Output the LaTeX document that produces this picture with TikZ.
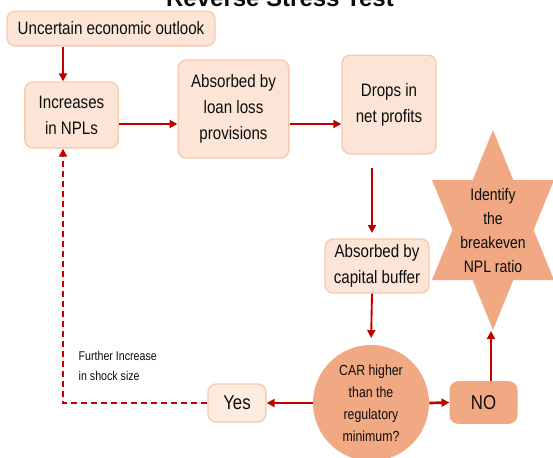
\documentclass[tikz,border=0pt]{standalone}
\usepackage{fontspec}
\setmainfont{Liberation Sans}[FakeStretch=0.84]
\newfontfamily\titlefont{Liberation Sans}
\usetikzlibrary{arrows.meta}
\definecolor{boxfill}{HTML}{FCE4D6}
\definecolor{yesfill}{HTML}{FDEBE0}
\definecolor{boxline}{HTML}{F7C9AD}
\definecolor{darkfill}{HTML}{F1A983}
\definecolor{arrowred}{HTML}{C00000}

\begin{document}
\begin{tikzpicture}[x=0.75pt, y=-0.75pt]
        \tikzstyle{every node}=[align=center, text=black!95, font=\fontsize{13.5}{19.5}\selectfont]
        \tikzstyle{flowbox}=[draw=boxline, fill=boxfill, line width=1pt, rounded corners=6pt, inner sep=1pt]
        \tikzstyle{arr}=[draw=arrowred, line width=1.4pt, -{Triangle[length=6pt, width=6pt]}]
        \tikzstyle{backarr}=[draw=arrowred, line width=1.8pt, dash pattern=on 5pt off 2.5pt, -{Triangle[length=6pt, width=6pt]}]

        \useasboundingbox (0,0) rectangle (553,457);
        \clip (0,0) rectangle (553,457);

        \node (title) [anchor=base, font=\titlefont\fontsize{18}{20}\selectfont\bfseries] at (280,6) {Reverse Stress Test};

        \node (outlook) [flowbox, minimum width=156pt, minimum height=26pt] at (111,28.5) {Uncertain economic outlook};
        \node (npl)     [flowbox, minimum width=70pt, minimum height=49.5pt] at (71.5,115) {Increases\\in NPLs};
        \node (llp)     [flowbox, minimum width=83pt, minimum height=73.5pt] at (233.5,109) {Absorbed by\\loan loss\\provisions};
        \node (profit)  [flowbox, minimum width=70.5pt, minimum height=74pt] at (389,104.5) {Drops in\\net profits};
        \node (buffer)  [flowbox, minimum width=78pt, minimum height=40.5pt] at (377,266) {Absorbed by\\capital buffer};
        \node (car)     [circle, fill=darkfill, minimum size=87pt, inner sep=0pt, font=\fontsize{11}{16.5}\selectfont] at (371,403) {CAR higher\\than the\\regulatory\\minimum?};
        \node (yes)     [flowbox, fill=yesfill, minimum width=43.5pt, minimum height=28.5pt, font=\fontsize{15}{18}\selectfont] at (237,403) {Yes};
        \node (no)      [flowbox, draw=darkfill, fill=darkfill, minimum width=50pt, minimum height=31pt, font=\fontsize{15}{18}\selectfont] at (483.5,402.5) {NO};

        \fill[darkfill, shift={(493,230)}] (0,-100) -- (20.3,-50) -- (61,-50) -- (40.6,0) -- (61,50) -- (20.3,50)
            -- (0,100) -- (-20.3,50) -- (-61,50) -- (-40.6,0) -- (-61,-50) -- (-20.3,-50) -- cycle;
        \node (target) [font=\fontsize{12.5}{18}\selectfont] at (493,231) {Identify\\the\\breakeven\\NPL ratio};

        \node (shock) [anchor=west, align=left, font=\fontsize{9.5}{14.5}\selectfont] at (74,366) {Further Increase\\in shock size};

        \coordinate (bend) at (63,403);
        \coordinate (row) at (0,124);
        \coordinate (col) at (372,0);
        \coordinate (tip) at (491,331);

        \draw[arr] (outlook.south -| bend) -- (npl.north -| bend);
        \draw[arr, line width=2pt] (npl.east |- row) -- (llp.west |- row);
        \draw[arr, line width=2pt] (llp.east |- row) -- (profit.west |- row);
        \draw[arr, shorten <=10pt, shorten >=4pt] (profit.south -| col) -- (buffer.north -| col);
        \draw[arr, shorten >=5pt] (buffer.south -| col) -- (car.north);
        \draw[arr, line width=2pt] (car.west) -- (yes.east);
        \draw[arr, line width=2pt] (car.east) -- (no.west);
        \draw[arr] (no.north -| tip) -- (tip);
        \draw[backarr] (yes.west) -- (bend) -- (npl.south -| bend);
\end{tikzpicture}
\end{document}
